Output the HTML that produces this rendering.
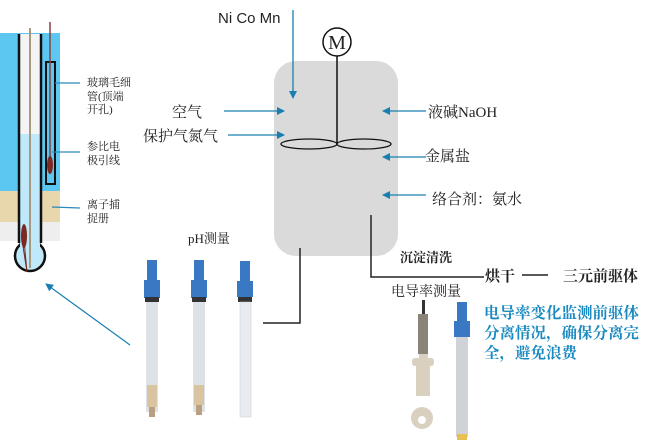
<!DOCTYPE html>
<html><head><meta charset="utf-8"><style>
html,body{margin:0;padding:0;background:#fff;}
svg{display:block}
.s{font-family:"Liberation Serif","Noto Serif CJK SC",serif;fill:#222}
</style></head><body>
<svg width="654" height="444" viewBox="0 0 654 444" xmlns="http://www.w3.org/2000/svg">
<defs><marker id="a" markerWidth="8" markerHeight="8" refX="7" refY="4" orient="auto" markerUnits="userSpaceOnUse"><path d="M0,0 L8,4 L0,8 Z" fill="#1a7fb0"/></marker></defs>
<!-- left electrode -->
<rect x="0" y="33" width="60" height="208" fill="#5cc8f2"/>
<rect x="0" y="191" width="60" height="31" fill="#e8d6ac"/>
<rect x="0" y="222" width="60" height="19" fill="#eeeeee"/>
<rect x="19" y="34" width="22" height="100" fill="#f4f4f4"/>
<rect x="19" y="134" width="22" height="110" fill="#bfe9fb"/>
<circle cx="30" cy="256" r="15" fill="#bfe9fb" stroke="#111" stroke-width="2.5"/>
<rect x="20" y="235" width="20" height="14" fill="#bfe9fb"/>
<path d="M19,34 V243 M41,34 V243" stroke="#111" stroke-width="2.5" fill="none"/>
<line x1="30" y1="28" x2="30" y2="268" stroke="#a89a80" stroke-width="2"/>
<ellipse cx="24" cy="236" rx="3" ry="12" fill="#7a2a22"/>
<path d="M24,240 L27,272 L22,240" stroke="#7a2a22" fill="none"/>
<rect x="46" y="62" width="9" height="122" fill="#5cc8f2" stroke="#111" stroke-width="2"/>
<line x1="50" y1="22" x2="50" y2="160" stroke="#8a4040" stroke-width="1.5"/>
<ellipse cx="50" cy="165" rx="3" ry="9" fill="#7a2a22"/>
<g stroke="#2a8ab8" stroke-width="1.3"><line x1="55" y1="83" x2="80" y2="83"/><line x1="52" y1="152" x2="80" y2="152"/><line x1="52" y1="207" x2="80" y2="208"/></g>
<g class="s" font-size="11"><text x="87" y="86">玻璃毛细</text><text x="87" y="100">管(顶端</text><text x="87" y="113">开孔)</text><text x="87" y="150">参比电</text><text x="87" y="164">极引线</text><text x="87" y="208">离子捕</text><text x="87" y="222">捉册</text></g>
<line x1="130" y1="345" x2="46" y2="284" stroke="#1a7fb0" stroke-width="1.2" marker-end="url(#a)"/>
<!-- reactor -->
<rect x="274" y="61" width="124" height="195" rx="22" fill="#dadada"/>
<circle cx="337" cy="42" r="14" fill="#fff" stroke="#111" stroke-width="1.5"/>
<text x="337" y="49" text-anchor="middle" class="s" font-size="20">M</text>
<line x1="337" y1="56" x2="337" y2="144" stroke="#111" stroke-width="1.5"/>
<ellipse cx="309" cy="144" rx="28" ry="5" fill="none" stroke="#111" stroke-width="1.3"/>
<ellipse cx="364" cy="144" rx="27" ry="5" fill="none" stroke="#111" stroke-width="1.3"/>
<g stroke="#1a7fb0" stroke-width="1.3" marker-end="url(#a)">
<line x1="293" y1="10" x2="293" y2="98"/>
<line x1="224" y1="111" x2="284" y2="111"/>
<line x1="228" y1="135" x2="284" y2="135"/>
<line x1="426" y1="111" x2="383" y2="111"/>
<line x1="426" y1="157" x2="383" y2="157"/>
<line x1="426" y1="195" x2="383" y2="195"/>
</g>
<g class="s" font-size="15">
<text x="218" y="23" font-family="Liberation Sans,sans-serif">Ni Co Mn</text>
<text x="172" y="117">空气</text><text x="143" y="141">保护气氮气</text>
<text x="428" y="117">液碱NaOH</text><text x="425" y="161">金属盐</text><text x="432" y="204">络合剂：氨水</text>
</g>
<path d="M300,248 V323 H263" stroke="#222" stroke-width="1.5" fill="none"/>
<path d="M371,215 V277 H484" stroke="#222" stroke-width="1.5" fill="none"/>
<line x1="522" y1="275" x2="548" y2="275" stroke="#222" stroke-width="1.5"/>
<g class="s" font-size="13" font-weight="bold"><text x="400" y="262">沉淀清洗</text></g>
<g class="s" font-size="15" font-weight="bold"><text x="485" y="281">烘干</text><text x="563" y="281">三元前驱体</text></g>
<text x="188" y="243" class="s" font-size="13">pH测量</text>
<text x="391" y="296" class="s" font-size="14">电导率测量</text>
<g font-family="Liberation Serif,Noto Serif CJK SC,serif" font-size="15.5" font-weight="bold" fill="#1a8ac0"><text x="484" y="318">电导率变化监测前驱体</text><text x="484" y="338">分离情况，确保分离完</text><text x="484" y="358">全，避免浪费</text></g>
<!-- pH probes -->
<g>
<rect x="147" y="260" width="10" height="22" fill="#3b78c4"/><rect x="144" y="280" width="16" height="18" fill="#3b78c4"/><rect x="145" y="297" width="14" height="5" fill="#333"/>
<rect x="146" y="302" width="12" height="110" fill="#dde2e6"/><rect x="147" y="385" width="10" height="22" fill="#d8c4a0"/><rect x="149" y="407" width="6" height="10" fill="#b8a080"/>
<rect x="194" y="260" width="10" height="22" fill="#3b78c4"/><rect x="191" y="280" width="16" height="18" fill="#3b78c4"/><rect x="192" y="297" width="14" height="5" fill="#333"/>
<rect x="193" y="302" width="12" height="110" fill="#dde2e6"/><rect x="194" y="385" width="10" height="20" fill="#d8c4a0"/><rect x="196" y="405" width="6" height="10" fill="#b8a080"/>
<rect x="240" y="261" width="10" height="20" fill="#3b78c4"/><rect x="237" y="281" width="16" height="16" fill="#3b78c4"/><rect x="238" y="297" width="14" height="5" fill="#333"/>
<rect x="240" y="302" width="11" height="115" fill="#e8ecf0" stroke="#c8ccd0" stroke-width="0.5"/>
</g>
<!-- conductivity probes -->
<g>
<rect x="422" y="300" width="3" height="15" fill="#333"/>
<rect x="418" y="314" width="10" height="40" fill="#8a8478"/>
<rect x="419" y="354" width="9" height="15" fill="#d9d0c0"/>
<rect x="412" y="358" width="22" height="8" rx="3" fill="#d9d0c0"/>
<rect x="416" y="366" width="14" height="30" fill="#d9d0c0"/>
<circle cx="422" cy="418" r="11" fill="#d9d0c0"/><circle cx="422" cy="420" r="4" fill="#fff"/>
<rect x="457" y="302" width="10" height="20" fill="#3b78c4"/><rect x="454" y="321" width="16" height="16" fill="#3b78c4"/>
<rect x="456" y="337" width="12" height="100" fill="#cfd3d8"/><rect x="457" y="434" width="10" height="6" fill="#e8c050"/>
</g>
</svg>
</body></html>
